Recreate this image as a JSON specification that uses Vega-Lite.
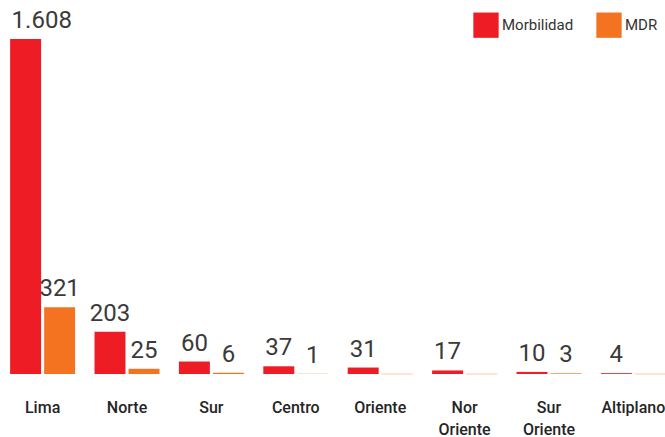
{
  "$schema": "https://vega.github.io/schema/vega-lite/v6.json",
  "autosize": "none",
  "width": 676,
  "height": 335,
  "padding": {"left": 0, "top": 39, "right": 0, "bottom": 63},
  "config": {
    "view": {"stroke": null},
    "font": "Roboto",
    "locale": {"number": {"decimal": ",", "thousands": ".", "grouping": [3], "currency": ["", ""]}}
  },
  "data": {
    "values": [
      {"region": "Lima", "serie": "Morbilidad", "casos": 1608},
      {"region": "Lima", "serie": "MDR", "casos": 321},
      {"region": "Norte", "serie": "Morbilidad", "casos": 203},
      {"region": "Norte", "serie": "MDR", "casos": 25},
      {"region": "Sur", "serie": "Morbilidad", "casos": 60},
      {"region": "Sur", "serie": "MDR", "casos": 6},
      {"region": "Centro", "serie": "Morbilidad", "casos": 37},
      {"region": "Centro", "serie": "MDR", "casos": 1},
      {"region": "Oriente", "serie": "Morbilidad", "casos": 31},
      {"region": "Oriente", "serie": "MDR", "casos": 0},
      {"region": "Nor Oriente", "serie": "Morbilidad", "casos": 17},
      {"region": "Nor Oriente", "serie": "MDR", "casos": 0},
      {"region": "Sur Oriente", "serie": "Morbilidad", "casos": 10},
      {"region": "Sur Oriente", "serie": "MDR", "casos": 3},
      {"region": "Altiplano", "serie": "Morbilidad", "casos": 4},
      {"region": "Altiplano", "serie": "MDR", "casos": 0}
    ]
  },
  "encoding": {
    "x": {
      "field": "region", "type": "nominal",
      "sort": ["Lima", "Norte", "Sur", "Centro", "Oriente", "Nor Oriente", "Sur Oriente", "Altiplano"],
      "scale": {"paddingInner": 0.23, "paddingOuter": 0.12},
      "axis": {
        "title": null, "domain": false, "ticks": false, "labelAngle": 0,
        "labelExpr": "split(datum.label, ' ')",
        "labelFontSize": 16, "labelFontWeight": 500, "labelColor": "#252525",
        "labelPadding": 25, "labelLineHeight": 22, "labelBaseline": "top"
      }
    },
    "xOffset": {
      "field": "serie", "type": "nominal", "sort": ["Morbilidad", "MDR"],
      "scale": {"paddingInner": 0.09, "paddingOuter": 0}
    },
    "y": {
      "field": "casos", "type": "quantitative",
      "scale": {"domain": [0, 1608], "nice": false},
      "axis": null
    }
  },
  "layer": [
    {
      "transform": [{"filter": "datum.casos == 0"}],
      "mark": {"type": "bar", "fill": "#FDDCCB", "stroke": "#FDDCCB", "strokeWidth": 1}
    },
    {
      "mark": {"type": "bar"},
      "encoding": {
        "color": {
          "field": "serie", "type": "nominal",
          "scale": {"domain": ["Morbilidad", "MDR"], "range": ["#EE1C25", "#F47321"]},
          "legend": {
            "title": null, "orient": "none", "legendX": 473, "legendY": -27,
            "direction": "horizontal", "symbolType": "square", "symbolSize": 640,
            "symbolStrokeWidth": 0, "labelFontSize": 15, "labelColor": "#333333",
            "columnPadding": 22, "labelOffset": 3
          }
        }
      }
    },
    {
      "transform": [{"filter": "datum.casos > 0 && datum.casos < 1000"}],
      "mark": {"type": "text", "baseline": "bottom", "dy": -6, "fontSize": 24, "fontWeight": 400, "color": "#3a3a3a"},
      "encoding": {
        "text": {"field": "casos", "type": "quantitative", "format": ","}
      }
    },
    {
      "transform": [{"filter": "datum.casos >= 1000"}],
      "mark": {"type": "text", "baseline": "bottom", "align": "left", "dx": -14, "dy": -6, "fontSize": 24, "fontWeight": 400, "color": "#3a3a3a"},
      "encoding": {
        "text": {"field": "casos", "type": "quantitative", "format": ","}
      }
    }
  ]
}
